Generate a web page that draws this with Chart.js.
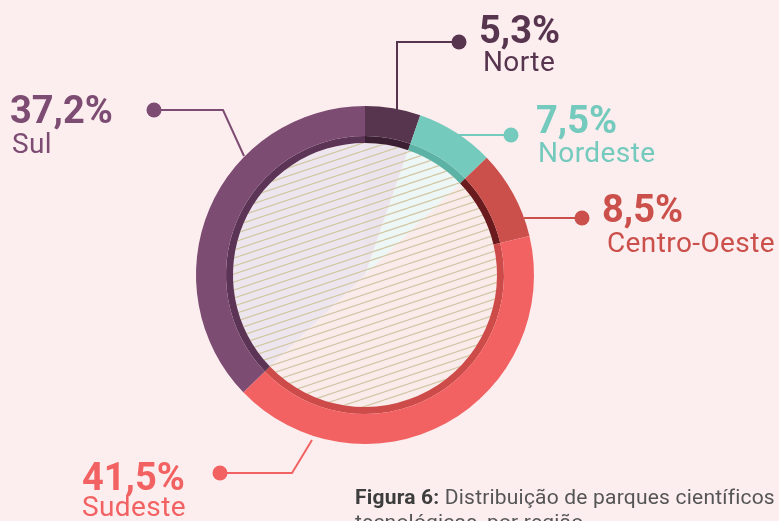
<!DOCTYPE html>
<html>
<head>
<meta charset="utf-8">
<script src="https://cdn.jsdelivr.net/npm/chart.js@4.4.1/dist/chart.umd.min.js"></script>
<style>
  html,body{margin:0;padding:0;background:#fcedee;}
  #wrap{position:relative;width:779px;height:521px;overflow:hidden;background:#fcedee;font-family:Roboto,"Liberation Sans",sans-serif;}
  #wrap canvas{position:absolute;left:0;top:0;}
  .lbl{position:absolute;white-space:nowrap;}
  .pct{font-size:38px;line-height:38px;font-weight:700;}
  .name{font-size:28px;line-height:28px;font-weight:400;letter-spacing:0.4px;}
  .cap{position:absolute;left:355px;top:485px;font-size:21px;line-height:25px;letter-spacing:0.2px;color:#555;white-space:nowrap;}
  .cap b{color:#3d3d3d;}
</style>
</head>
<body>
<div id="wrap">
  <canvas id="chart" width="779" height="521"></canvas>
  <div class="cap"><b>Figura 6:</b> Distribuição de parques científicos e<br>tecnológicas, por região</div>
</div>
<script>
/* Parques científicos – distribuição por região */
const regions=['Norte','Nordeste','Centro-Oeste','Sudeste','Sul'];
const shares=[5.3,7.5,8.5,41.5,37.2];
const ringColors=['#57354f','#73cabd','#cb504b','#f26262','#7d4c73'];
const bandColors=['#3b2034','#5cb3a5','#6a1b1d','#cd4c4a','#5c3455'];
const tintColors=['#ebe4ec','#edf7f5','#fbecec','#fbecec','#ede6ee'];

// label / leader layout (px)
const labelPos={
  'Norte':{x:479,pctTop:11,nameX:483,nameTop:48,pts:[[397,112],[397,42],[459,42]]},
  'Nordeste':{x:536,pctTop:101,nameX:538,nameTop:139,pts:[[458,135],[511,135]]},
  'Centro-Oeste':{x:602,pctTop:190,nameX:607,nameTop:229,pts:[[524,218],[582,218]]},
  'Sudeste':{x:82,pctTop:458,nameX:82,nameTop:493,pts:[[312,440],[292,473],[220,473]]},
  'Sul':{x:10,pctTop:91,nameX:12,nameTop:130,pts:[[244,156],[223,110],[154,110]]}
};

function hatch(bg){
  const c=document.createElement('canvas');
  c.width=24;c.height=8;
  const g=c.getContext('2d');
  g.fillStyle=bg;g.fillRect(0,0,24,8);
  g.strokeStyle='#d4c9a9';g.lineWidth=1.3;
  [-8,0,8].forEach(o=>{g.beginPath();g.moveTo(0,8+o);g.lineTo(24,o);g.stroke();});
  return g.createPattern(c,'repeat');
}

const leaders={
  id:'leaders',
  afterDraw(chart){
    const ctx=chart.ctx;
    regions.forEach((r,i)=>{
      const p=labelPos[r].pts;
      ctx.save();
      ctx.strokeStyle=ringColors[i];ctx.fillStyle=ringColors[i];
      ctx.lineWidth=2;
      ctx.beginPath();
      ctx.moveTo(p[0][0],p[0][1]);
      p.slice(1).forEach(q=>ctx.lineTo(q[0],q[1]));
      ctx.stroke();
      const d=p[p.length-1];
      ctx.beginPath();ctx.arc(d[0],d[1],7.5,0,Math.PI*2);ctx.fill();
      ctx.restore();
    });
  }
};

new Chart(document.getElementById('chart'),{
  type:'doughnut',
  data:{
    labels:regions,
    datasets:[
      {data:shares,backgroundColor:ringColors,borderWidth:0,weight:30},
      {data:shares,backgroundColor:bandColors,borderWidth:0,weight:7},
      {data:shares,backgroundColor:tintColors.map(hatch),borderWidth:0,weight:132}
    ]
  },
  options:{
    responsive:false,
    animation:false,
    events:[],
    cutout:0,
    rotation:0,
    layout:{padding:{left:196,right:245,top:106,bottom:77}},
    plugins:{legend:{display:false},tooltip:{enabled:false}}
  },
  plugins:[leaders]
});

const wrap=document.getElementById('wrap');
regions.forEach((r,i)=>{
  const L=labelPos[r];
  const a=document.createElement('div');
  a.className='lbl pct';a.style.left=L.x+'px';a.style.top=L.pctTop+'px';a.style.color=ringColors[i];
  a.textContent=shares[i].toFixed(1).replace('.',',')+'%';
  const b=document.createElement('div');
  b.className='lbl name';b.style.left=L.nameX+'px';b.style.top=L.nameTop+'px';b.style.color=ringColors[i];
  b.textContent=r;
  wrap.appendChild(a);wrap.appendChild(b);
});
</script>
</body>
</html>
